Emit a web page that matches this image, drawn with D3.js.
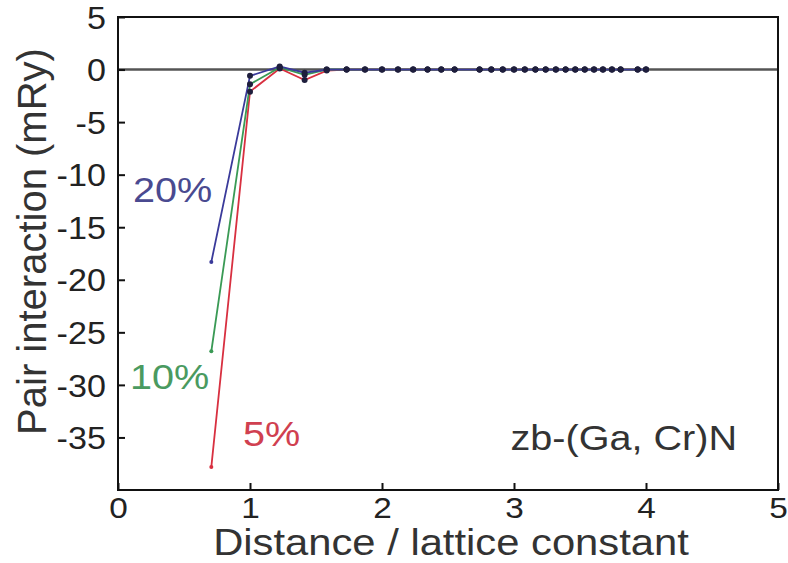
<!DOCTYPE html>
<html><head><meta charset="utf-8">
<script src="https://cdn.jsdelivr.net/npm/d3@7"></script>
<style>body{margin:0;background:#fff}svg{display:block}text{font-family:"Liberation Sans",Arial,sans-serif}</style>
</head><body><div id="c"></div>
<script>
const distances = [0.707,1.0,1.225,1.414,1.581,1.732,1.871,2.0,2.121,2.236,2.345,2.449,2.550,2.739,2.828,2.915,3.0,3.082,3.162,3.240,3.317,3.391,3.464,3.536,3.606,3.674,3.742,3.808,3.937,4.0];
const series5 = [-37.8,-2.1,0.1,-1.0,-0.1,0,0,0,0,0,0,0,0,0,0,0,0,0,0,0,0,0,0,0,0,0,0,0,0,0];
const series10 = [-26.8,-1.4,0.2,-0.5,0,0,0,0,0,0,0,0,0,0,0,0,0,0,0,0,0,0,0,0,0,0,0,0,0,0];
const series20 = [-18.3,-0.6,0.3,-0.3,0,0,0,0,0,0,0,0,0,0,0,0,0,0,0,0,0,0,0,0,0,0,0,0,0,0];
const seriesNames = ["5%","10%","20%"];
const seriesColors = ["#d83040","#3a9a55","#3a3a9a"];
const xTicks = [0,1,2,3,4,5];
const yTicks = [5,0,-5,-10,-15,-20,-25,-30,-35];

const W=788,H=563;
const m={l:118,r:10,t:17,b:73};
const svg=d3.select("#c").append("svg").attr("width",W).attr("height",H);
const x=d3.scaleLinear().domain([0,5]).range([m.l,W-m.r]);
const y=d3.scaleLinear().domain([-40,5]).range([H-m.b,m.t]);
const SX=1.1;

svg.append("line").attr("x1",x(0)).attr("x2",x(5)).attr("y1",y(0)).attr("y2",y(0))
  .attr("stroke","#555").attr("stroke-width",2.5);

const allSeries=[series5,series10,series20];
const line=d3.line().x((d,i)=>x(distances[i])).y(d=>y(d));
allSeries.forEach((s,k)=>{
  svg.append("path").datum(s).attr("d",line).attr("fill","none")
    .attr("stroke",seriesColors[k]).attr("stroke-width",1.8);
});
allSeries.forEach((s,k)=>{
  svg.append("g").selectAll("circle").data(s).join("circle")
    .attr("cx",(d,i)=>x(distances[i])).attr("cy",d=>y(d))
    .attr("r",(d,i)=>i===0?2:3)
    .attr("fill",(d,i)=>i===0?seriesColors[k]:"#1e1e3c");
});

svg.append("rect").attr("x",x(0)).attr("y",y(5)).attr("width",x(5)-x(0)).attr("height",y(-40)-y(5))
  .attr("fill","none").attr("stroke","#111").attr("stroke-width",2);

const fmt=d=>String(d);
const yAxis=d3.axisLeft(y).tickValues(yTicks).tickSize(-7).tickPadding(11).tickFormat(fmt);
const gy=svg.append("g").attr("transform",`translate(${x(0)},0)`).call(yAxis);
const xAxis=d3.axisBottom(x).tickValues(xTicks).tickSize(-7).tickPadding(7).tickFormat(fmt);
const gx=svg.append("g").attr("transform",`translate(0,${y(-40)})`).call(xAxis);
[gy,gx].forEach(g=>{
  g.select(".domain").remove();
  g.selectAll(".tick line").attr("stroke","#111").attr("stroke-width",2);
  g.selectAll("text").attr("fill","#222")
    .style("font-family","Liberation Sans, Arial, sans-serif").attr("transform",`scale(${SX},1)`);
});
gy.selectAll("text").attr("font-size",31).attr("dy","0.36em");
gx.selectAll("text").attr("font-size",29).attr("transform",`scale(1.15,1)`).attr("dy","0.71em");

function htext(t,px,py,size,color,anchor,sx){
  svg.append("text").attr("transform",`translate(${px},${py}) scale(${sx||SX},1)`)
    .attr("text-anchor",anchor||"start").attr("font-size",size).attr("fill",color).text(t);
}
htext("Distance / lattice constant",(x(0)+x(5))/2+3,555,36,"#333","middle",1.16);
svg.append("text").attr("transform",`translate(46,${(y(5)+y(-40))/2-12}) rotate(-90)`).attr("text-anchor","middle")
  .attr("font-size",40).attr("fill","#333").text("Pair interaction (mRy)");

htext("20%",133,202,36,"#4a4a90");
htext("10%",130,389,36,"#4a9a60");
htext("5%",243,446,36,"#d04050");
htext("zb-(Ga, Cr)N",737,450,36,"#333","end");
</script></body></html>
